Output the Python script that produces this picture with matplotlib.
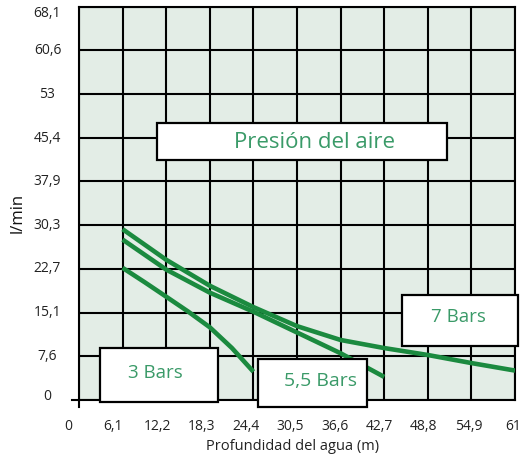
import matplotlib
matplotlib.use("Agg")
import matplotlib.pyplot as plt
from matplotlib.patches import Rectangle
from matplotlib.transforms import ScaledTranslation, blended_transform_factory

# ---- data ----
x_ticks = [0, 6.1, 12.2, 18.3, 24.4, 30.5, 36.6, 42.7, 48.8, 54.9, 61]
x_tick_labels = ["0", "6,1", "12,2", "18,3", "24,4", "30,5", "36,6", "42,7", "48,8", "54,9", "61"]
y_ticks = [0, 7.6, 15.1, 22.7, 30.3, 37.9, 45.4, 53, 60.6, 68.1]
y_tick_labels = ["0", "7,6", "15,1", "22,7", "30,3", "37,9", "45,4", "53", "60,6", "68,1"]

depth_7 = [6.1, 12.2, 18.3, 24.4, 30.5, 36.6, 42.7, 48.8, 54.9, 61]
flow_7 = [29.6, 24.3, 19.8, 16.1, 12.8, 10.4, 9.0, 7.8, 6.4, 5.1]
depth_55 = [6.1, 12.2, 18.3, 24.4, 30.5, 36.6, 42.7]
flow_55 = [27.8, 22.6, 18.6, 15.3, 11.7, 8.1, 4.0]
depth_3 = [6.1, 9.2, 12.2, 15.3, 18.3, 21.4, 24.4]
flow_3 = [22.9, 20.4, 17.9, 15.3, 12.6, 9.0, 4.9]

series_labels = ["3 Bars", "5,5 Bars", "7 Bars"]
legend_title = "Presión del aire"
x_label = "Profundidad del agua (m)"
y_label = "l/min"

# ---- style ----
FONT = "Open Sans"
plt.rcParams["font.family"] = [FONT, "DejaVu Sans"]
LINE_C = "#1b8a3f"
TEXT_C = "#3a9a68"
BG = "#e3ede6"
DPI = 100
W, H = 523, 459
L, R, T, B = 79, 515, 7, 400   # axes pixel box

fig = plt.figure(figsize=(W / DPI, H / DPI), dpi=DPI)
ax = fig.add_axes([L / W, (H - B) / H, (R - L) / W, (B - T) / H])
ax.set_facecolor(BG)
ax.set_xlim(0, 61)
ax.set_ylim(0, 68.1)
ax.set_xticks(x_ticks)
ax.set_yticks(y_ticks)
ax.set_xticklabels([])
ax.set_yticklabels([])
ax.tick_params(length=0)
ax.grid(True, color="black", lw=1.5, zorder=1)
ax.set_axisbelow(True)
for s in ax.spines.values():
    s.set_color("black")
    s.set_linewidth(1.5)

# curves
for xs, ys in [(depth_3, flow_3), (depth_55, flow_55), (depth_7, flow_7)]:
    ax.plot(xs, ys, color=LINE_C, lw=3.3, solid_capstyle="butt", solid_joinstyle="round", zorder=3)

# origin cross ticks
ax.plot([0, 0], [0, -7 / (B - T)], transform=ax.transAxes, color="black", lw=1.5, clip_on=False)
ax.plot([-7 / (R - L), 0], [0, 0], transform=ax.transAxes, color="black", lw=1.5, clip_on=False)

def px(x, y):
    """pixel -> data"""
    return (x - L) / (R - L) * 61, (B - y) / (B - T) * 68.1

# tick labels (x positions shifted slightly as in the reference)
xt = blended_transform_factory(ax.transData, ax.transAxes)
for i, (v, lab) in enumerate(zip(x_ticks, x_tick_labels)):
    dx = (-11 + 0.9 * i) / DPI
    ax.text(v, 0, lab, transform=xt + ScaledTranslation(dx, -27 / DPI, fig.dpi_scale_trans),
            ha="center", va="center", fontsize=10, color="#222222")
yt = blended_transform_factory(ax.transAxes, ax.transData)
n = len(y_ticks)
for i, (v, lab) in enumerate(zip(y_ticks, y_tick_labels)):
    dy = -6 if i == n - 1 else (4 if i == 0 else 0)
    ax.text(0, v, lab, transform=yt + ScaledTranslation(-31.5 / DPI, dy / DPI, fig.dpi_scale_trans),
            ha="center", va="center", fontsize=10, color="#222222")

fig.text(293 / W, 1 - 446 / H, x_label, ha="center", va="center", fontsize=10.5, color="#222222")
fig.text(18 / W, 1 - 213 / H, y_label, ha="center", va="center", fontsize=12, rotation=90, color="#111111")

# boxes (pixel layout)
boxes = [
    (legend_title, (157, 123, 447, 160), (315, 142), 16),
    (series_labels[0], (100, 348, 218, 402), (155, 373), 13.5),
    (series_labels[1], (258, 359, 367, 407), (320, 381), 14),
    (series_labels[2], (402, 295, 518, 346), (458, 317), 13.5),
]
for text, (x0, y0, x1, y1), (tx, ty), fs in boxes:
    dx0, dy1 = px(x0, y1)
    dx1, dy0 = px(x1, y0)
    ax.add_patch(Rectangle((dx0, dy1), dx1 - dx0, dy0 - dy1, facecolor="white",
                           edgecolor="black", lw=1.6, zorder=5, clip_on=False))
    tdx, tdy = px(tx, ty)
    ax.text(tdx, tdy, text, ha="center", va="center", fontsize=fs, color=TEXT_C, zorder=6)

fig.savefig("out.png", dpi=DPI, facecolor="white")
